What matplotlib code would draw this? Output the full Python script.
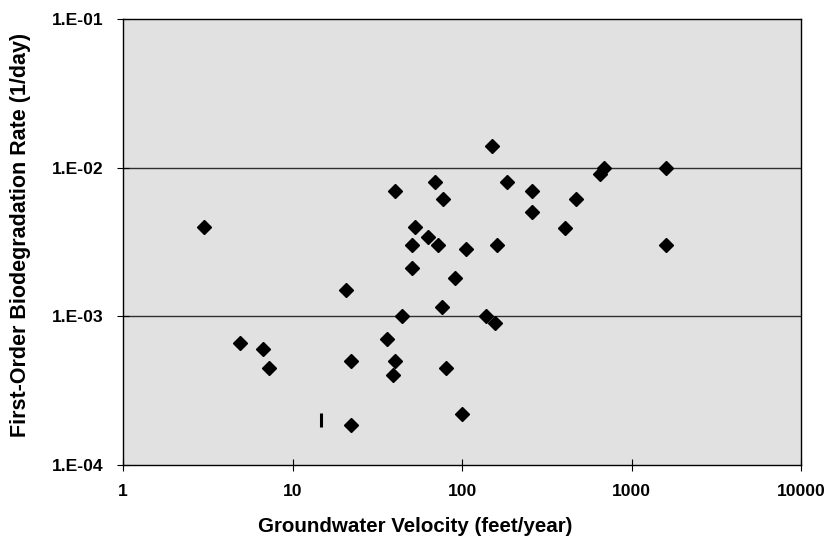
import matplotlib
matplotlib.use('Agg')
from matplotlib import pyplot as plt
from matplotlib.ticker import FixedLocator, NullLocator

# groundwater velocity (feet/year) and first-order rate (1/day)
velocity = [3, 4.9, 6.7, 7.3, 20.8, 22, 22, 36, 40, 40, 39, 44,
            51, 51, 53, 63, 69, 72, 76, 77, 80, 91, 100, 106,
            139, 150, 157, 161, 183, 259, 259, 404, 473, 656, 685,
            1600, 1600]
rate = [4.0e-3, 6.6e-4, 6.0e-4, 4.5e-4, 1.5e-3, 5.0e-4, 1.86e-4, 7.0e-4,
        7.0e-3, 5.0e-4, 4.0e-4, 1.0e-3, 3.0e-3, 2.1e-3, 4.0e-3, 3.4e-3,
        8.0e-3, 3.0e-3, 1.15e-3, 6.2e-3, 4.5e-4, 1.8e-3, 2.2e-4, 2.85e-3,
        1.0e-3, 1.4e-2, 9.0e-4, 3.0e-3, 8.0e-3, 7.0e-3, 5.0e-3, 3.9e-3,
        6.2e-3, 9.0e-3, 1.0e-2, 1.0e-2, 3.0e-3]

# single bar-shaped point
bar_velocity = [14.7]
bar_rate = [2.0e-4]

x_ticks = [1, 10, 100, 1000, 10000]
x_labels = ['1', '10', '100', '1000', '10000']
y_ticks = [1e-4, 1e-3, 1e-2, 1e-1]
y_labels = ['1.E-04', '1.E-03', '1.E-02', '1.E-01']

plt.rcParams['font.family'] = ['Liberation Sans', 'DejaVu Sans']
plt.rcParams['font.weight'] = 'bold'

fig = plt.figure(figsize=(8.3, 5.45), dpi=100)
ax = fig.add_axes([0.1482, 0.1468, 0.9651 - 0.1482, 0.9651 - 0.1468])
ax.set_facecolor('#e1e1e1')

ax.set_xscale('log')
ax.set_yscale('log')
ax.set_xlim(1, 10000)
ax.set_ylim(1e-4, 1e-1)

for y in [1e-3, 1e-2]:
    ax.axhline(y, color='#303030', linewidth=1.0, zorder=1)

ax.plot(velocity, rate, linestyle='none', marker='D', markersize=7.3,
        color='black', zorder=3)
ax.plot(bar_velocity, bar_rate, linestyle='none', marker='|',
        markersize=10, markeredgewidth=2.2, color='black', zorder=3)

ax.xaxis.set_major_locator(FixedLocator(x_ticks))
ax.yaxis.set_major_locator(FixedLocator(y_ticks))
ax.xaxis.set_minor_locator(NullLocator())
ax.yaxis.set_minor_locator(NullLocator())
ax.set_xticklabels(x_labels)
ax.set_yticklabels(y_labels)
ax.tick_params(direction='inout', length=8, width=0.8, labelsize=12.6,
               pad=10)

for side in ['left', 'right', 'top', 'bottom']:
    ax.spines[side].set_color('black')
    ax.spines[side].set_linewidth(1.0)

ax.set_xlabel('Groundwater Velocity (feet/year)', fontsize=14.8,
              fontweight='bold')
ax.xaxis.label.set_verticalalignment('center')
ax.xaxis.set_label_coords(0.431, -0.139)

ax.set_ylabel('First-Order Biodegradation Rate (1/day)', fontsize=15.5,
              fontweight='bold')
ax.yaxis.label.set_verticalalignment('center')
ax.yaxis.set_label_coords(-0.151, 0.516)

fig.savefig('out.png', dpi=100)
